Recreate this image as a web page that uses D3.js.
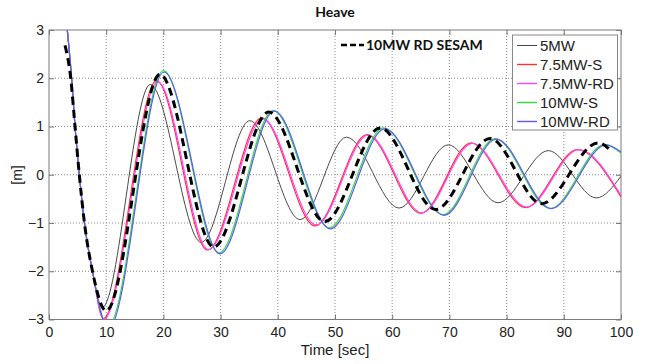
<!DOCTYPE html>
<html>
<head>
<meta charset="utf-8">
<script src="https://cdn.jsdelivr.net/npm/d3@7/dist/d3.min.js"></script>
<style>
  html, body { margin: 0; padding: 0; background: #fff; }
  svg { display: block; }
  .tick text { font-family: "Liberation Sans", Arial, sans-serif; font-size: 14px; fill: #222; }
</style>
</head>
<body>
<svg id="chart" width="646" height="364"></svg>
<script>
// Heave free-decay time series (time in s, heave in m)
const xTicks = [0, 10, 20, 30, 40, 50, 60, 70, 80, 90, 100];
const yTicks = [-3, -2, -1, 0, 1, 2, 3];

const t5MW = [2.6, 3.2, 3.95, 4.55, 5.3, 6.2, 7.6, 9.3, 17.7, 26.6, 35.1, 43.9, 52.0, 61.2, 69.8, 78.5, 87.3, 95.7, 100];
const v5MW = [3.7, 3.0, 2.0, 1.0, 0.0, -1.0, -2.0, -2.75, 1.87, -1.4, 1.12, -0.93, 0.78, -0.69, 0.62, -0.58, 0.5, -0.48, -0.03];

const t75S = [2.6, 3.2, 3.95, 4.55, 5.3, 6.2, 7.6, 9.5, 18.8, 27.7, 37.2, 46.5, 55.6, 65.0, 73.8, 83.3, 92.4, 100];
const v75S = [3.7, 3.0, 2.0, 1.0, 0.0, -1.0, -2.0, -2.98, 1.95, -1.56, 1.18, -1.06, 0.83, -0.8, 0.66, -0.68, 0.52, -0.46];

const t75RD = [2.6, 3.2, 3.95, 4.55, 5.3, 6.2, 7.6, 9.6, 19.0, 27.9, 37.4, 46.7, 55.8, 65.2, 74.0, 83.5, 92.6, 100];
const v75RD = [3.7, 3.0, 2.0, 1.0, 0.0, -1.0, -2.0, -3.0, 1.93, -1.55, 1.16, -1.04, 0.82, -0.79, 0.65, -0.67, 0.52, -0.43];

const t10S = [2.6, 3.2, 3.95, 4.55, 5.3, 6.2, 7.6, 10.3, 20.0, 29.7, 39.2, 49.0, 58.5, 68.9, 78.0, 87.6, 97.2, 100];
const v10S = [3.7, 3.0, 2.0, 1.0, 0.0, -1.0, -2.0, -3.15, 2.16, -1.62, 1.33, -1.1, 0.97, -0.83, 0.75, -0.7, 0.63, 0.45];

const t10RD = [2.6, 3.2, 3.95, 4.55, 5.3, 6.2, 7.6, 10.4, 20.1, 29.9, 39.4, 49.2, 58.7, 69.1, 78.2, 87.8, 97.4, 100];
const v10RD = [3.7, 3.0, 2.0, 1.0, 0.0, -1.0, -2.0, -3.2, 2.13, -1.64, 1.32, -1.12, 0.95, -0.84, 0.74, -0.7, 0.62, 0.47];

const tSesam = [2.8, 3.8, 4.55, 5.3, 6.2, 7.6, 10.0, 19.4, 28.8, 38.4, 48.2, 57.9, 67.6, 77.1, 86.1, 96.0, 98.5];
const vSesam = [2.68, 2.0, 1.0, 0.0, -1.0, -2.0, -2.82, 2.08, -1.5, 1.3, -0.97, 0.97, -0.72, 0.75, -0.6, 0.66, 0.47];

const seriesNames = ["5MW", "7.5MW-S", "7.5MW-RD", "10MW-S", "10MW-RD"];
const seriesColors = ["#4a4a4a", "#ff3030", "#ff44ff", "#33dd33", "#5a5aff"];
const seriesTimes = [t5MW, t75S, t75RD, t10S, t10RD];
const seriesValues = [v5MW, v75S, v75RD, v10S, v10RD];
const sesamName = "10MW RD SESAM";

const svg = d3.select("#chart");
const plotL = 49, plotR = 621, plotT = 30, plotB = 319.5;

const x = d3.scaleLinear().domain([0, 100]).range([plotL, plotR]);
const y = d3.scaleLinear().domain([-3, 3]).range([plotB, plotT]);

// dotted grid
const grid = svg.append("g").attr("stroke", "#8a8a8a").attr("stroke-width", 1).attr("stroke-dasharray", "1,2");
xTicks.slice(1, -1).forEach(t => {
  grid.append("line").attr("x1", x(t)).attr("x2", x(t)).attr("y1", plotT).attr("y2", plotB);
});
yTicks.slice(1, -1).forEach(v => {
  grid.append("line").attr("x1", plotL).attr("x2", plotR).attr("y1", y(v)).attr("y2", y(v));
});

// axes with inward ticks
const axisStyle = g => {
  g.select(".domain").remove();
  g.selectAll(".tick line").attr("stroke", "#777");
};
svg.append("g").attr("transform", `translate(0,${plotB})`)
  .call(d3.axisBottom(x).tickValues(xTicks).tickSizeInner(-5).tickSizeOuter(0).tickPadding(8).tickFormat(d3.format("d")))
  .call(axisStyle);
svg.append("g").attr("transform", `translate(${plotL},0)`)
  .call(d3.axisLeft(y).tickValues(yTicks).tickSizeInner(-5).tickSizeOuter(0).tickPadding(5).tickFormat(d3.format("d")))
  .call(axisStyle);
svg.append("g").attr("transform", `translate(0,${plotT})`)
  .call(d3.axisTop(x).tickValues(xTicks).tickSizeInner(-5).tickSizeOuter(0).tickFormat(""))
  .call(axisStyle);
svg.append("g").attr("transform", `translate(${plotR},0)`)
  .call(d3.axisRight(y).tickValues(yTicks).tickSizeInner(-5).tickSizeOuter(0).tickFormat(""))
  .call(axisStyle);

svg.append("rect").attr("x", plotL).attr("y", plotT).attr("width", plotR - plotL).attr("height", plotB - plotT)
  .attr("fill", "none").attr("stroke", "#7a7a7a").attr("stroke-width", 1);

// curves
svg.append("clipPath").attr("id", "plotClip").append("rect")
  .attr("x", plotL).attr("y", plotT).attr("width", plotR - plotL).attr("height", plotB - plotT);

const line = d3.line().x(d => x(d[0])).y(d => y(d[1])).curve(d3.curveMonotoneX);
const plot = svg.append("g").attr("clip-path", "url(#plotClip)");

seriesNames.forEach((name, i) => {
  const pts = seriesTimes[i].map((t, k) => [t, seriesValues[i][k]]);
  plot.append("path").datum(pts).attr("d", line)
    .attr("fill", "none").attr("stroke", seriesColors[i]).attr("stroke-width", i === 0 ? 1 : 1.2);
});
const sesamPts = tSesam.map((t, k) => [t, vSesam[k]]);
plot.append("path").datum(sesamPts).attr("d", line)
  .attr("fill", "none").attr("stroke", "#000").attr("stroke-width", 3).attr("stroke-dasharray", "8,5");

// legend
const lg = svg.append("g");
lg.append("rect").attr("x", 512.5).attr("y", 35).attr("width", 105).attr("height", 95)
  .attr("fill", "#fff").attr("stroke", "#888").attr("stroke-width", 1);
seriesNames.forEach((name, i) => {
  const yy = 45.5 + i * 19;
  lg.append("line").attr("x1", 517).attr("x2", 537).attr("y1", yy).attr("y2", yy)
    .attr("stroke", seriesColors[i]).attr("stroke-width", i === 0 ? 1 : 1.4);
  lg.append("text").attr("x", 540).attr("y", yy).attr("dy", "0.36em")
    .attr("font-family", "Liberation Sans, Arial, sans-serif").attr("font-size", 15).attr("fill", "#222")
    .text(name);
});

// SESAM annotation
svg.append("line").attr("x1", 341).attr("x2", 364).attr("y1", 45).attr("y2", 45)
  .attr("stroke", "#000").attr("stroke-width", 2.5).attr("stroke-dasharray", "6,3");
svg.append("text").attr("x", 366).attr("y", 45).attr("dy", "0.36em")
  .attr("font-family", "Lato, sans-serif").attr("font-weight", "bold").attr("font-size", 14).attr("fill", "#111")
  .text(sesamName);

// titles
svg.append("text").attr("x", (plotL + plotR) / 2).attr("y", 17).attr("text-anchor", "middle")
  .attr("font-family", "Lato, sans-serif").attr("font-weight", "bold").attr("font-size", 14).attr("fill", "#111")
  .text("Heave");
svg.append("text").attr("x", (plotL + plotR) / 2).attr("y", 355).attr("text-anchor", "middle")
  .attr("font-family", "Liberation Sans, Arial, sans-serif").attr("font-size", 15).attr("fill", "#222")
  .text("Time [sec]");
svg.append("text").attr("transform", "translate(22,175) rotate(-90)").attr("text-anchor", "middle")
  .attr("font-family", "Liberation Sans, Arial, sans-serif").attr("font-size", 14).attr("fill", "#222")
  .text("[m]");
</script>
</body>
</html>
